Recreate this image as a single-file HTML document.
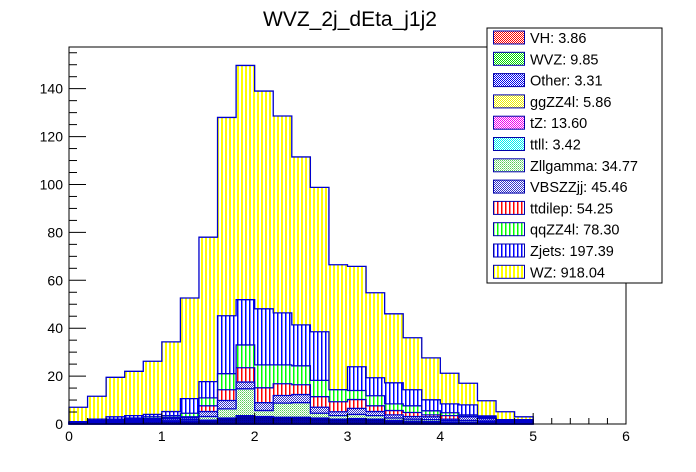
<!DOCTYPE html>
<html><head><meta charset="utf-8"><style>
body{margin:0;background:#fff;}
svg{display:block;font-family:"Liberation Sans",Arial,sans-serif;}
</style></head><body>
<svg id="chart" width="696" height="472">
<defs>
<pattern id="pV-yellow" x="0" y="0" width="4" height="4" patternUnits="userSpaceOnUse"><rect width="4" height="4" fill="#fff"/><rect x="1" y="0" width="2" height="4" fill="#ffff00"/></pattern>
<pattern id="pV-blue" x="0" y="0" width="4" height="4" patternUnits="userSpaceOnUse"><rect width="4" height="4" fill="#fff"/><rect x="1" y="0" width="1.5" height="4" fill="#0000ff"/></pattern>
<pattern id="pV-green" x="0" y="0" width="4" height="4" patternUnits="userSpaceOnUse"><rect width="4" height="4" fill="#fff"/><rect x="1" y="0" width="1.5" height="4" fill="#00ff00"/></pattern>
<pattern id="pV-red" x="0" y="0" width="4" height="4" patternUnits="userSpaceOnUse"><rect width="4" height="4" fill="#fff"/><rect x="1" y="0" width="1.5" height="4" fill="#ff0000"/></pattern>
<pattern id="pC-blue" width="2" height="2" patternUnits="userSpaceOnUse"><rect width="2" height="2" fill="#fff"/><rect width="1" height="1" fill="#3333cc"/><rect x="1" y="1" width="1" height="1" fill="#3333cc"/></pattern>
<pattern id="pC-green" width="2" height="2" patternUnits="userSpaceOnUse"><rect width="2" height="2" fill="#fff"/><rect width="1" height="1" fill="#55cc55"/><rect x="1" y="1" width="1" height="1" fill="#99dd99"/></pattern>
<pattern id="pC-navy" width="2" height="2" patternUnits="userSpaceOnUse"><rect width="2" height="2" fill="#0000aa"/><rect width="1" height="1" fill="#000088"/></pattern>
<pattern id="pC-red" width="2" height="2" patternUnits="userSpaceOnUse"><rect width="2" height="2" fill="#fff"/><rect width="1" height="1" fill="#ff0000"/><rect x="1" y="1" width="1" height="1" fill="#ff0000"/></pattern>
<pattern id="pC-lgreen" width="2" height="2" patternUnits="userSpaceOnUse"><rect width="2" height="2" fill="#fff"/><rect width="1" height="1" fill="#00dd00"/><rect x="1" y="1" width="1" height="1" fill="#00dd00"/></pattern>
<pattern id="pC-dblue" width="2" height="2" patternUnits="userSpaceOnUse"><rect width="2" height="2" fill="#fff"/><rect width="1" height="1" fill="#0000ee"/><rect x="1" y="1" width="1" height="1" fill="#0000ee"/></pattern>
<pattern id="pC-yellow" width="2" height="2" patternUnits="userSpaceOnUse"><rect width="2" height="2" fill="#fff"/><rect width="1" height="1" fill="#eeee00"/><rect x="1" y="1" width="1" height="1" fill="#eeee00"/></pattern>
<pattern id="pC-mag" width="2" height="2" patternUnits="userSpaceOnUse"><rect width="2" height="2" fill="#fff"/><rect width="1" height="1" fill="#ee00ee"/><rect x="1" y="1" width="1" height="1" fill="#ee00ee"/></pattern>
<pattern id="pC-cyan" width="2" height="2" patternUnits="userSpaceOnUse"><rect width="2" height="2" fill="#fff"/><rect width="1" height="1" fill="#00eeee"/><rect x="1" y="1" width="1" height="1" fill="#00eeee"/></pattern>
</defs>
<text x="350" y="26" font-size="21" text-anchor="middle">WVZ_2j_dEta_j1j2</text>
<g id="bars"></g>
<g id="axes"></g>
<g id="legend"></g>
</svg>
<script>
const binEdgesStart = 0, binWidth = 0.2;
const minorBkg = [0.3,0.5,0.7,0.8,1,1.1,1.2,1.6,2.5,3.5,3.1,2.8,2.8,2.5,2,2.3,2,1.5,1.2,1,0.8,0.8,0.8,0.4,0.4];
const zllgamma = [0.1,0.2,0.3,0.4,0.4,0.5,0.6,1.5,3.8,11.2,2.5,5.9,6.1,2,1.5,1.7,1.5,1,0.8,0.8,0.6,0.7,0.5,0.3,0.3];
const vbszzjj = [0.2,0.3,0.4,0.4,0.5,0.7,0.7,2.1,3.5,2.8,3.3,3.2,3.4,2.5,1.6,2.5,1.7,1.3,1.1,1.2,0.6,1.5,0.9,0.4,0.4];
const ttdilep = [0.1,0.2,0.3,0.4,0.4,0.5,0.5,2.4,4.5,6,6.2,4.9,4.1,4.4,4.2,3.7,2.4,1.8,1.7,0.8,1.5,0.2,0.4,0.2,0.2];
const qqzz4l = [0.1,0.3,0.3,0.5,0.7,0.7,1.5,3.3,6.7,9.5,9.6,7.9,7.9,6.8,5,3.8,4.2,2.8,2.8,1.7,1.2,0.6,0.4,0.2,0.2];
const zjets = [0.2,0.5,1,1,1,1.7,6.1,6.8,24.2,18.9,23.4,21.7,17.1,20.3,0,9.9,7.5,8.8,6.7,4.6,3.7,4.2,0.4,0.3,0.3];
const wz = [6,9.6,16.5,18.5,22.2,29.1,42,60.3,82.8,97.8,90.9,82.2,70.1,60.3,52.2,41.9,35.5,28.8,21.7,17.5,12.8,9,6.3,3.3,1.2];
const xTicks = [0,1,2,3,4,5,6];
const yTicks = [0,20,40,60,80,100,120,140];
const legendLabels = ["VH: 3.86","WVZ: 9.85","Other: 3.31","ggZZ4l: 5.86","tZ: 13.60","ttll: 3.42","Zllgamma: 34.77","VBSZZjj: 45.46","ttdilep: 54.25","qqZZ4l: 78.30","Zjets: 197.39","WZ: 918.04"];

const X0=69,X1=626,Y0=424,Y1=47,XMAX=6,YMAX=157.4;
const xs=v=>X0+(v/XMAX)*(X1-X0);
const ys=v=>Y0-(v/YMAX)*(Y0-Y1);
const NS='http://www.w3.org/2000/svg';
function mk(tag,attrs,parent){const e=document.createElementNS(NS,tag);for(const k in attrs)e.setAttribute(k,attrs[k]);parent.appendChild(e);return e;}

const layers=[
 {vals:minorBkg,fill:'url(#pC-navy)',name:'minor-bkg-stack'},
 {vals:zllgamma,fill:'url(#pC-green)',name:'zllgamma-stack'},
 {vals:vbszzjj,fill:'url(#pC-blue)',name:'vbszzjj-stack'},
 {vals:ttdilep,fill:'url(#pV-red)',name:'ttdilep-stack'},
 {vals:qqzz4l,fill:'url(#pV-green)',name:'qqzz4l-stack'},
 {vals:zjets,fill:'url(#pV-blue)',name:'zjets-stack'},
 {vals:wz,fill:'url(#pV-yellow)',name:'wz-stack'}
];
const bars=document.getElementById('bars');
const n=wz.length;
const cum=new Array(n).fill(0);
layers.forEach(L=>{
  const t=cum.map((c,i)=>c+L.vals[i]);
  L.top=t;
  for(let i=0;i<n;i++)cum[i]=t[i];
});
for(let li=layers.length-1;li>=0;li--){
  const L=layers[li];
  const g=mk('g',{},bars);
  
  
  let d='M'+xs(binEdgesStart)+','+Y0;
  for(let i=0;i<n;i++){
    const a=xs(binEdgesStart+i*binWidth),b=xs(binEdgesStart+(i+1)*binWidth),y=ys(L.top[i]);
    d+=' L'+a+','+y+' L'+b+','+y;
  }
  d+=' L'+xs(binEdgesStart+n*binWidth)+','+Y0+' Z';
  const p=mk('path',{d:d,fill:L.fill,stroke:'#0000cc','stroke-width':1.3},g);
  
  
}
const ax=document.getElementById('axes');
const frame=mk('rect',{x:X0,y:Y1,width:X1-X0,height:Y0-Y1,fill:'none',stroke:'#000','stroke-width':1},ax);


for(let v=0;v<=YMAX;v+=5){
  const major=(v%20===0);
  const t=mk('line',{x1:X0,x2:X0+(major?17:8),y1:ys(v),y2:ys(v),stroke:'#000','stroke-width':1},ax);
  
  
}
yTicks.forEach(v=>{
  const t=mk('text',{x:X0-6,y:ys(v)+5,'font-size':14,'text-anchor':'end'},ax);
  t.textContent=v;
  
  
});
for(let v=0;v<=XMAX+1e-9;v+=0.2){
  const major=Math.abs(v-Math.round(v))<1e-6;
  const t=mk('line',{x1:xs(v),x2:xs(v),y1:Y0,y2:Y0-(major?11:6),stroke:'#000','stroke-width':1},ax);
  
  
}
xTicks.forEach(v=>{
  const t=mk('text',{x:xs(v),y:Y0+17,'font-size':14,'text-anchor':'middle'},ax);
  t.textContent=v;
  
  
});
const lg=document.getElementById('legend');
const box=mk('rect',{x:487,y:28,width:175,height:255,fill:'#fff',stroke:'#000','stroke-width':1},lg);


const legFills=['url(#pC-red)','url(#pC-lgreen)','url(#pC-dblue)','url(#pC-yellow)','url(#pC-mag)','url(#pC-cyan)','url(#pC-green)','url(#pC-blue)','url(#pV-red)','url(#pV-green)','url(#pV-blue)','url(#pV-yellow)'];
legendLabels.forEach((lab,i)=>{
  const cy=37.5+i*21.3;
  const g=mk('g',{},lg);
  
  
  mk('rect',{x:493.5,y:cy-6.5,width:31,height:13,fill:legFills[i],stroke:'#0000aa','stroke-width':1},g);
  const t=mk('text',{x:530,y:cy+5.5,'font-size':14.5},g);
  t.textContent=lab;
});
</script>
</body></html>
